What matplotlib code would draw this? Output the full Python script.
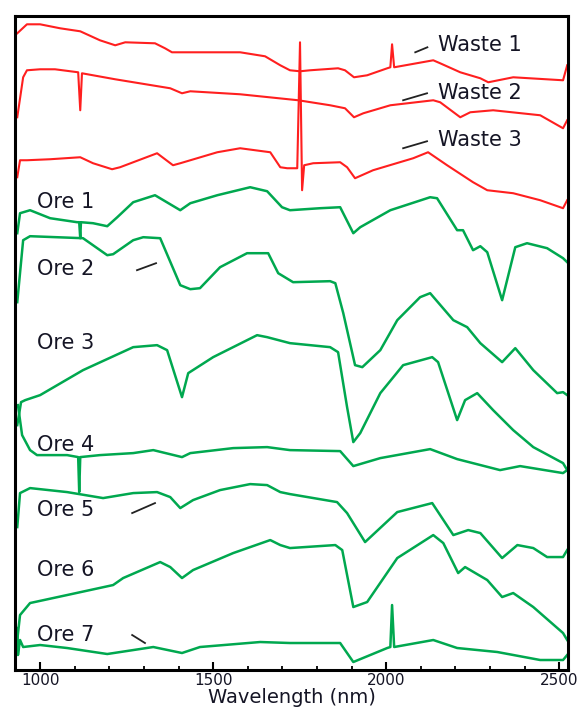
import matplotlib
matplotlib.use("Agg")
import matplotlib.pyplot as plt
from matplotlib.ticker import MultipleLocator

# stacked reflectance spectra (arbitrary offset units)
waste1_wl = [934, 962, 1000, 1058, 1116, 1173, 1217, 1246, 1332, 1361, 1381, 1434, 1578, 1650, 1694,
             1722, 1751, 1780, 1861, 1881, 1907, 1945, 2003, 2012, 2017, 2023, 2136, 2156, 2214, 2272,
             2295, 2367, 2511, 2523]
waste1_r = [637, 646, 646, 642, 639, 630, 625, 628, 627, 622, 618, 618, 618, 614, 605,
            600, 599, 600, 602, 600, 593, 595, 602, 603, 626, 603, 610, 607, 598, 592,
            588, 593, 590, 605]

waste2_wl = [934, 951, 962, 1000, 1043, 1110, 1116, 1121, 1217, 1376, 1410, 1434, 1578, 1746, 1838,
             1881, 1907, 1934, 2012, 2136, 2156, 2214, 2243, 2309, 2445, 2511, 2523]
waste2_r = [553, 593, 600, 601, 601, 598, 560, 597, 591, 582, 577, 579, 576, 570, 565,
            562, 553, 557, 565, 570, 568, 553, 558, 560, 555, 542, 550]

waste3_wl = [934, 942, 962, 1029, 1116, 1153, 1208, 1231, 1338, 1384, 1405, 1512, 1578, 1665, 1694,
             1714, 1743, 1751, 1757, 1763, 1789, 1867, 1887, 1910, 1962, 2078, 2121, 2176, 2251,
             2292, 2367, 2445, 2511, 2523]
waste3_r = [493, 510, 510, 511, 513, 507, 501, 503, 517, 505, 507, 518, 522, 518, 503,
            502, 502, 628, 480, 505, 507, 508, 503, 492, 500, 512, 518, 505, 488,
            480, 477, 470, 462, 470]

ore1_wl = [934, 942, 971, 1029, 1107, 1113, 1116, 1118, 1153, 1194, 1223, 1269, 1332, 1405, 1434,
           1512, 1607, 1656, 1699, 1722, 1809, 1867, 1905, 1925, 2012, 2127, 2147, 2205, 2222,
           2251, 2272, 2292, 2335, 2373, 2407, 2465, 2511, 2523]
ore1_r = [437, 457, 460, 452, 448, 448, 432, 448, 447, 444, 453, 468, 475, 460, 467,
          475, 483, 479, 463, 460, 462, 463, 437, 443, 460, 473, 472, 440, 440,
          420, 424, 418, 370, 423, 427, 422, 412, 408]

ore2_wl = [934, 951, 971, 1124, 1194, 1211, 1269, 1298, 1347, 1405, 1434, 1462, 1520, 1598, 1659,
           1688, 1731, 1838, 1853, 1876, 1910, 1931, 1983, 2032, 2098, 2127, 2194, 2234, 2272,
           2335, 2373, 2425, 2494, 2511, 2523]
ore2_r = [368, 430, 434, 432, 415, 416, 430, 433, 432, 385, 381, 382, 403, 417, 417,
          397, 388, 389, 387, 357, 305, 303, 320, 350, 373, 377, 350, 343, 327,
          308, 322, 300, 277, 278, 275]

ore3_wl = [934, 945, 957, 1000, 1124, 1269, 1338, 1367, 1410, 1428, 1500, 1627, 1656, 1722, 1838,
           1861, 1887, 1905, 1925, 1983, 2049, 2133, 2150, 2205, 2228, 2263, 2309, 2367, 2425,
           2511, 2523]
ore3_r = [245, 268, 270, 275, 300, 323, 325, 320, 273, 297, 313, 335, 333, 327, 323,
          318, 263, 228, 237, 277, 305, 313, 308, 250, 270, 277, 260, 240, 223,
          207, 200]

ore4_wl = [936, 948, 971, 991, 1078, 1110, 1113, 1116, 1173, 1269, 1327, 1410, 1434, 1558, 1656,
           1722, 1867, 1905, 1983, 2127, 2205, 2329, 2387, 2511, 2523]
ore4_r = [265, 235, 220, 215, 215, 213, 178, 213, 215, 217, 220, 213, 217, 222, 223,
          220, 219, 204, 212, 221, 211, 200, 204, 197, 200]

ore5_wl = [934, 942, 971, 1078, 1182, 1269, 1338, 1376, 1405, 1442, 1520, 1607, 1656, 1694, 1722,
           1858, 1887, 1939, 2032, 2133, 2194, 2237, 2272, 2335, 2379, 2425, 2465, 2511, 2523]
ore5_r = [143, 177, 182, 178, 172, 177, 178, 173, 162, 170, 180, 186, 185, 178, 176,
          168, 157, 128, 158, 167, 135, 140, 137, 112, 125, 122, 113, 113, 120]

ore6_wl = [934, 942, 971, 1078, 1211, 1240, 1347, 1376, 1410, 1442, 1558, 1665, 1694, 1722, 1853,
           1873, 1905, 1945, 2032, 2136, 2165, 2208, 2228, 2292, 2335, 2367, 2425, 2511, 2523]
ore6_r = [30, 55, 67, 75, 85, 92, 108, 103, 92, 100, 117, 130, 125, 122, 125,
          120, 63, 68, 112, 135, 127, 97, 103, 90, 73, 77, 63, 37, 30]

ore7_wl = [934, 936, 942, 951, 1000, 1078, 1194, 1327, 1410, 1462, 1636, 1722, 1867, 1905, 2003,
           2012, 2017, 2023, 2136, 2205, 2321, 2445, 2511, 2523]
ore7_r = [42, 15, 30, 23, 25, 22, 16, 23, 17, 23, 28, 27, 27, 8, 22,
          23, 65, 23, 30, 22, 18, 10, 10, 15]

waste = [(waste1_wl, waste1_r), (waste2_wl, waste2_r), (waste3_wl, waste3_r)]
ores = [(ore1_wl, ore1_r), (ore2_wl, ore2_r), (ore3_wl, ore3_r), (ore4_wl, ore4_r),
        (ore5_wl, ore5_r), (ore6_wl, ore6_r), (ore7_wl, ore7_r)]

waste_names = ['Waste 1', 'Waste 2', 'Waste 3']
ore_names = ['Ore 1', 'Ore 2', 'Ore 3', 'Ore 4', 'Ore 5', 'Ore 6', 'Ore 7']

RED = '#ff1f1f'
GREEN = '#00a84f'
TXT = '#151525'

fig = plt.figure(figsize=(5.84, 7.09), dpi=100)
ax = fig.add_axes([0.026, 0.055, 0.947, 0.922])

for wl, r in waste:
    ax.plot(wl, r, color=RED, lw=1.5)
for wl, r in ores:
    ax.plot(wl, r, color=GREEN, lw=1.8)

# labels + short leader strokes
waste_lab_y = [625, 577, 530]
for name, y in zip(waste_names, waste_lab_y):
    ax.text(2150, y, name, fontsize=15, color=TXT, va='center', ha='left')
leaders = [((2084, 2119), (618, 623)), ((2049, 2118), (570, 577)), ((2049, 2118), (522, 529)),
           ((1280, 1335), (400, 407)), ((1266, 1332), (157, 167)), ((1266, 1303), (35, 27))]
for xs, ys in leaders:
    ax.plot(xs, ys, color='#222222', lw=1.3)

ore_lab_y = [468, 401, 327, 225, 160, 100, 35]
for name, y in zip(ore_names, ore_lab_y):
    ax.text(991, y, name, fontsize=15, color=TXT, va='center', ha='left')

ax.set_xlim(928, 2526)
ax.set_ylim(0, 654)
ax.set_yticks([])
ax.xaxis.set_major_locator(MultipleLocator(500))
ax.xaxis.set_minor_locator(MultipleLocator(100))
ax.tick_params(axis='x', which='major', direction='in', length=6, width=1.5, labelsize=11,
               labelcolor=TXT, pad=2)
ax.tick_params(axis='x', which='minor', direction='in', length=3, width=1.3)
for s in ax.spines.values():
    s.set_linewidth(2.2)
ax.set_xlabel('Wavelength (nm)', fontsize=14, color=TXT, labelpad=0)

fig.savefig('out.png', dpi=100)
